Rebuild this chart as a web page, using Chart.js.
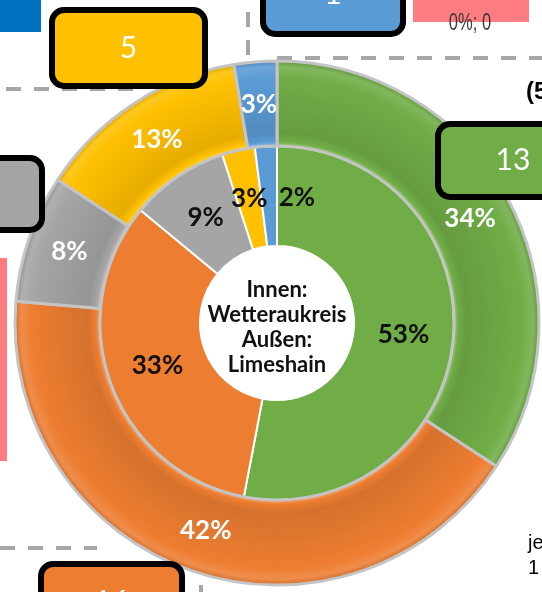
<!DOCTYPE html>
<html>
<head>
<meta charset="utf-8">
<script src="https://cdn.jsdelivr.net/npm/chart.js@4.4.1/dist/chart.umd.min.js"></script>
<style>
  html, body { margin: 0; padding: 0; background: #fff; }
  #wrap { width: 542px; height: 592px; position: relative; }
</style>
</head>
<body>
<div id="wrap"><canvas id="myChart"></canvas></div>
<script>
const categories = ['Kategorie 1', 'Kategorie 2', 'Kategorie 3', 'Kategorie 4', 'Kategorie 5', 'Kategorie 6'];
// outer ring: Limeshain (counts)
const limeshain = [13, 16, 3, 5, 1, 0];
// inner ring: Wetteraukreis (percent)
const wetteraukreis = [53, 33, 9, 3, 2, 0];
const colors = ['#70ad47', '#ed7d31', '#a5a5a5', '#ffc000', '#5b9bd5', '#ff7c80'];
const centerText = ['Innen:', 'Wetteraukreis', 'Außen:', 'Limeshain'];

function shade(hex, f) {
    let r = parseInt(hex.slice(1, 3), 16), g = parseInt(hex.slice(3, 5), 16), b = parseInt(hex.slice(5, 7), 16);
    if (f < 0) { r *= 1 + f; g *= 1 + f; b *= 1 + f; }
    else { r += (255 - r) * f; g += (255 - g) * f; b += (255 - b) * f; }
    return 'rgb(' + Math.round(r) + ',' + Math.round(g) + ',' + Math.round(b) + ')';
}

// bevel look for the outer ring
function bevel(context) {
    const base = colors[context.dataIndex];
    const chart = context.chart;
    const ctrl = chart.getDatasetMeta(context.datasetIndex).controller;
    const a = chart.chartArea;
    if (!a || !ctrl.outerRadius) return base;
    const cx = (a.left + a.right) / 2, cy = (a.top + a.bottom) / 2;
    const g = chart.ctx.createRadialGradient(cx, cy, ctrl.innerRadius, cx, cy, ctrl.outerRadius);
    g.addColorStop(0, shade(base, 0.35));
    g.addColorStop(0.05, base);
    g.addColorStop(0.15, shade(base, -0.1));
    g.addColorStop(0.8, base);
    g.addColorStop(0.93, shade(base, 0.12));
    g.addColorStop(1, shade(base, -0.12));
    return g;
}

function dashed(ctx, x1, y1, x2, y2) {
    ctx.beginPath();
    ctx.moveTo(x1, y1);
    ctx.lineTo(x2, y2);
    ctx.stroke();
}

function callout(ctx, x, y, w, h, fill, text) {
    ctx.beginPath();
    ctx.roundRect(x, y, w, h, 12);
    ctx.fillStyle = fill;
    ctx.fill();
    ctx.lineWidth = 6;
    ctx.strokeStyle = '#000';
    ctx.stroke();
    if (text !== null) {
        ctx.fillStyle = '#fff';
        ctx.font = '30px Lato';
        ctx.textAlign = 'center';
        ctx.textBaseline = 'middle';
        ctx.fillText(text, x + w / 2, y + h / 2);
    }
}

const backdrop = {
    id: 'backdrop',
    beforeDatasetsDraw(chart) {
        const ctx = chart.ctx;
        ctx.save();
        ctx.strokeStyle = '#a6a6a6';
        ctx.lineWidth = 4;
        ctx.setLineDash([15, 13]);
        dashed(ctx, 248, 12, 248, 58);
        dashed(ctx, 277, 58, 542, 58);
        dashed(ctx, 6, 89, 138, 89);
        dashed(ctx, 0, 548, 97, 548);
        dashed(ctx, 201, 585, 201, 592);
        ctx.restore();
    }
};

const ringLabels = {
    id: 'ringLabels',
    afterDatasetsDraw(chart) {
        const ctx = chart.ctx;
        ctx.save();
        ctx.textAlign = 'center';
        ctx.textBaseline = 'middle';
        chart.data.datasets.forEach((ds, di) => {
            const meta = chart.getDatasetMeta(di);
            const total = ds.data.reduce((s, v) => s + v, 0);
            meta.data.forEach((arc, i) => {
                const v = ds.data[i];
                if (!v) return;
                const p = arc.getProps(['x', 'y', 'startAngle', 'endAngle', 'innerRadius', 'outerRadius'], true);
                const ang = (p.startAngle + p.endAngle) / 2 + (ds.labelNudge ? ds.labelNudge[i] : 0);
                const r = (p.innerRadius + p.outerRadius) / 2;
                ctx.font = 'bold 26px Lato';
                ctx.fillStyle = ds.labelColor;
                ctx.fillText(Math.round(v / total * 100) + '%', p.x + Math.cos(ang) * r, p.y + Math.sin(ang) * r);
            });
        });
        ctx.restore();
    },
    afterDraw(chart) {
        const ctx = chart.ctx;
        const a = chart.chartArea;
        const cx = (a.left + a.right) / 2, cy = (a.top + a.bottom) / 2;
        ctx.save();
        ctx.textAlign = 'center';
        ctx.textBaseline = 'middle';
        ctx.fillStyle = '#111';
        ctx.font = 'bold 22px Lato';
        centerText.forEach((t, i) => ctx.fillText(t, cx, cy - 33 + i * 25));

        // callouts of the outer ring
        callout(ctx, 52, 10, 153, 76, colors[3], String(limeshain[3]));
        callout(ctx, 263, -45, 140, 79, colors[4], String(limeshain[4]));
        callout(ctx, 438, 124, 150, 73, colors[0], String(limeshain[0]));
        callout(ctx, -110, 158, 152, 72, colors[2], String(limeshain[2]));
        callout(ctx, 41, 564, 141, 76, colors[1], String(limeshain[1]));

        // legend fragments
        ctx.fillStyle = '#0070c0';
        ctx.fillRect(0, 0, 41, 32);
        ctx.fillStyle = colors[5];
        ctx.fillRect(413, 0, 116, 22);
        ctx.fillRect(0, 258, 7, 203);

        ctx.fillStyle = '#3a3a3a';
        ctx.font = '23px "Liberation Sans", Arial, sans-serif';
        ctx.translate(470, 24);
        ctx.scale(0.72, 1);
        ctx.fillText('0%; ' + limeshain[5], 0, 0);
        ctx.setTransform(1, 0, 0, 1, 0, 0);

        ctx.fillStyle = '#000';
        ctx.textAlign = 'left';
        ctx.font = 'bold 24px "Liberation Sans", Arial, sans-serif';
        ctx.fillText('(5', 526, 92);
        ctx.font = '20px "Liberation Sans", Arial, sans-serif';
        ctx.fillText('je', 528, 543);
        ctx.fillText('1', 528, 568);
        ctx.restore();
    }
};

new Chart(document.getElementById('myChart'), {
    type: 'doughnut',
    data: {
        labels: categories,
        datasets: [{
            label: 'Limeshain',
            data: limeshain,
            backgroundColor: bevel,
            borderColor: '#c4c4c4',
            borderWidth: 3,
            weight: 85,
            labelColor: '#ffffff'
        }, {
            label: 'Wetteraukreis',
            data: wetteraukreis,
            backgroundColor: colors,
            borderColor: '#ffffff',
            borderWidth: 2,
            weight: 100,
            labelColor: '#111111',
            labelNudge: [0, 0, 0, 0, 0.22, 0]
        }]
    },
    options: {
        responsive: true,
        maintainAspectRatio: false,
        animation: false,
        radius: 262,
        cutout: '29.4%',
        layout: { padding: { left: 12, right: 0, top: 54, bottom: 0 } },
        plugins: {
            legend: { display: false },
            tooltip: { enabled: false }
        }
    },
    plugins: [backdrop, ringLabels]
});
</script>
</body>
</html>
